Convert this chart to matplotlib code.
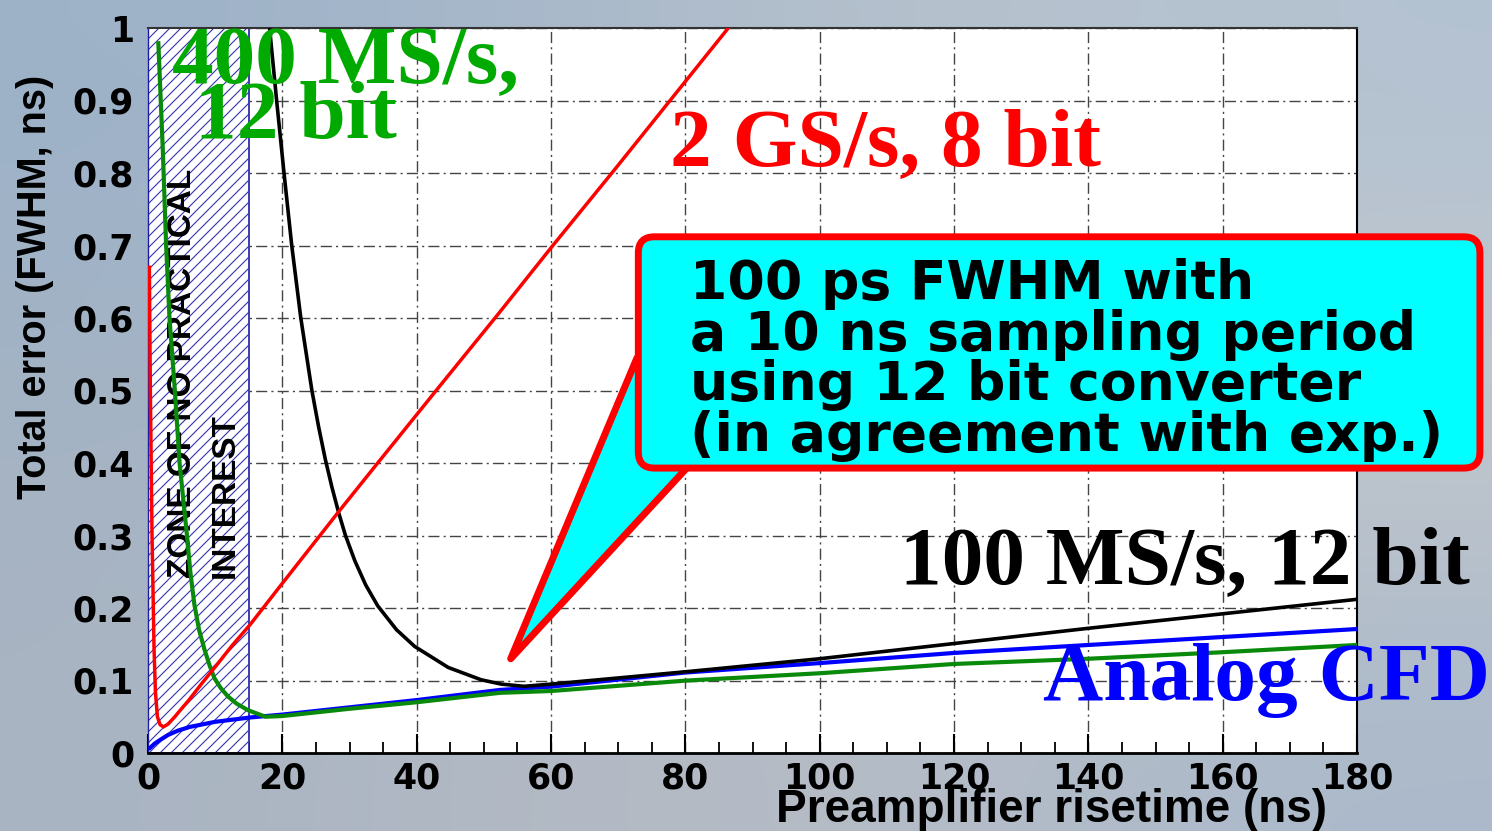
import matplotlib.pyplot as plt
import numpy as np
from matplotlib.collections import LineCollection
from matplotlib.patches import FancyBboxPatch, Polygon

plt.rcParams['font.family'] = 'DejaVu Sans'
plt.rcParams['font.weight'] = 'bold'

# 2 GS/s, 8 bit digitizer
rise_2g = [0.2, 0.35, 0.6, 0.9, 1.1, 1.4, 1.8, 2.3, 3, 4, 4.8, 6, 8.1, 10.2,
           12.5, 15.2, 18.4, 20, 28.4, 34.2, 42.9, 52.1, 60.1, 69.5, 77.9, 86.4]
err_2g = [0.67, 0.5, 0.3, 0.143, 0.085, 0.05, 0.039, 0.036, 0.04, 0.05, 0.059,
          0.072, 0.097, 0.121, 0.148, 0.177, 0.215, 0.234, 0.333, 0.4, 0.5,
          0.605, 0.698, 0.805, 0.902, 1.0]

# 400 MS/s, 12 bit digitizer
rise_400m = [1.54, 2.2, 2.7, 3.2, 4.0, 4.7, 5.8, 6.3, 6.9, 7.6, 8.4, 9.2, 9.9,
             10.8, 11.9, 13.2, 14.9, 17.5, 20, 30, 40, 52.4, 60, 80, 100, 120,
             140, 160, 180]
err_400m = [0.979, 0.833, 0.7, 0.6, 0.5, 0.4, 0.3, 0.25, 0.205, 0.17, 0.143,
            0.12, 0.103, 0.09, 0.078, 0.068, 0.059, 0.05, 0.051, 0.061, 0.07,
            0.083, 0.0855, 0.0998, 0.11, 0.1228, 0.13, 0.139, 0.149]

# 100 MS/s, 12 bit digitizer
rise_100m = [18.1, 19.15, 20.25, 21.4, 22.75, 24.4, 25.4, 26.4, 27.4, 28.4,
             29.4, 30.8, 32.4, 34.2, 37.0, 39.7, 44.7, 49.6, 52.6, 56, 60, 80,
             100, 120, 140, 160, 180]
err_100m = [1.0, 0.9, 0.8, 0.7, 0.6, 0.5, 0.45, 0.405, 0.366, 0.331, 0.3,
            0.265, 0.232, 0.203, 0.17, 0.147, 0.118, 0.101, 0.095, 0.092,
            0.095, 0.112, 0.13, 0.151, 0.172, 0.192, 0.212]

# analog constant fraction discriminator
rise_cfd = [0.3, 1, 1.8, 3, 4.5, 6.25, 10, 15.2, 20, 30, 40, 52.4, 60, 80, 100,
            120, 140, 160, 180]
err_cfd = [0.007, 0.013, 0.018, 0.025, 0.031, 0.036, 0.043, 0.049, 0.053,
           0.063, 0.073, 0.087, 0.0915, 0.111, 0.124, 0.138, 0.149, 0.16, 0.171]

zone_end = 15
x_ticks = [0, 20, 40, 60, 80, 100, 120, 140, 160, 180]
y_ticks = [0, 0.1, 0.2, 0.3, 0.4, 0.5, 0.6, 0.7, 0.8, 0.9, 1.0]
y_tick_labels = ['0', '0.1', '0.2', '0.3', '0.4', '0.5', '0.6', '0.7', '0.8',
                 '0.9', '1']

note_lines = ['100 ps FWHM with', 'a 10 ns sampling period',
              'using 12 bit converter', '(in agreement with exp.)']

fig = plt.figure(figsize=(14.92, 8.31), dpi=100)

# sky-like backdrop
bg = fig.add_axes([0, 0, 1, 1], zorder=-10)
sky = np.array([
    [[157, 178, 200], [169, 185, 203], [183, 194, 204], [179, 194, 210]],
    [[164, 179, 196], [172, 184, 197], [186, 192, 199], [197, 201, 204]],
    [[169, 180, 194], [180, 186, 196], [181, 188, 198], [170, 185, 203]],
]) / 255.0
bg.imshow(sky, aspect='auto', interpolation='bicubic', extent=[0, 1, 0, 1])
bg.set_axis_off()

ax_box = [148 / 1492, 1 - 753 / 831, 1209 / 1492, 725 / 831]
ax = fig.add_axes(ax_box)
ax.set_facecolor('white')
ax.set_xlim(0, 180)
ax.set_ylim(0, 1)

ax.set_axisbelow(True)
ax.grid(True, color='#444444', lw=1, linestyle=(0, (8, 3, 1.5, 3)))

# hatched zone: 45 degree lines every 11 px, cut to the zone rectangle
ax.axvspan(0, zone_end, facecolor='white', edgecolor='#1c1ca8', lw=1.2,
           zorder=1)
ax_w, ax_h = 1209, 725
zone_px = zone_end / 180 * ax_w
segs = []
for c in np.arange(-ax_h, zone_px, 11):
    x0 = max(0, c)
    x1 = min(zone_px, c + ax_h)
    if x1 > x0:
        segs.append([(x0 / ax_w, (x0 - c) / ax_h),
                     (x1 / ax_w, (x1 - c) / ax_h)])
hatch = LineCollection(segs, colors='#3535b0', lw=0.8,
                       transform=ax.transAxes, zorder=1.1)
ax.add_collection(hatch)

ax.text(zone_end / 2 + 0.8, 0.241, 'ZONE OF NO PRACTICAL\nINTEREST',
        rotation=90, ha='center', va='bottom', multialignment='left',
        family='Liberation Sans', fontsize=24, linespacing=1.5, zorder=2)

ax.plot(rise_cfd, err_cfd, color='#0000ff', lw=3, zorder=3)
ax.plot(rise_400m, err_400m, color='#0a8a0a', lw=3, zorder=3)
ax.plot(rise_100m, err_100m, color='black', lw=2.6, zorder=4)
ax.plot(rise_2g, err_2g, color='#ff0000', lw=2.5, zorder=4)

serif = 'Liberation Serif'
ax.text(3.6, 0.924, '400 MS/s,', family=serif, fontsize=60, color='#00aa00',
        va='baseline', zorder=5)
ax.text(7.0, 0.848, '12 bit', family=serif, fontsize=60, color='#00aa00',
        va='baseline', zorder=5)
ax.text(77.7, 0.811, '2 GS/s, 8 bit', family=serif, fontsize=60,
        color='#ff0000', va='baseline', zorder=5)
ax.text(112.0, 0.2345, '100 MS/s, 12 bit', family=serif, fontsize=60,
        color='black', va='baseline', zorder=5, clip_on=False)
ax.text(133.2, 0.073, 'Analog CFD', family=serif, fontsize=60,
        color='#0000ff', va='baseline', zorder=5, clip_on=False)

# callout with pointer
pointer = Polygon([(54, 0.13), (72.8, 0.545), (80.2, 0.393)], closed=True,
                  facecolor='#00ffff', edgecolor='#ff0000', lw=5,
                  joinstyle='round', zorder=6)
ax.add_patch(pointer)
aspect = (1 / 725) / (180 / 1209)
box = FancyBboxPatch((73.0, 0.393), 198.3 - 73.0, 0.712 - 0.393,
                     boxstyle='round,pad=0,rounding_size=2.4',
                     mutation_aspect=aspect, facecolor='#00ffff',
                     edgecolor='#ff0000', lw=5, zorder=7, clip_on=False)
ax.add_patch(box)
ax.text(80.7, 0.683, '\n'.join(note_lines), fontsize=38.6, va='top',
        ha='left', linespacing=0.97, zorder=8, clip_on=False)

ax.set_xticks(x_ticks)
ax.set_xticks(np.arange(0, 181, 5), minor=True)
ax.set_yticks(y_ticks)
ax.set_yticklabels(y_tick_labels)
ax.tick_params(axis='x', which='major', direction='in', length=14, width=1.5,
               pad=6, labelsize=25)
ax.tick_params(axis='x', which='minor', direction='in', length=8, width=1.3)
ax.tick_params(axis='y', length=0, pad=10, labelsize=25)

ax.spines['bottom'].set_linewidth(2)
ax.spines['right'].set_linewidth(1.5)
ax.spines['top'].set_linewidth(1.5)
ax.spines['top'].set_color('#333333')
ax.spines['left'].set_color('#1c1ca8')
ax.spines['left'].set_linewidth(1)

fig.text(1051 / 1492, 1 - 810 / 831, 'Preamplifier risetime (ns)',
         family='Liberation Sans', fontsize=33, ha='center', va='center')
fig.text(35 / 1492, 1 - 287 / 831, 'Total error (FWHM, ns)',
         family='Liberation Sans', fontsize=28.5, rotation=90, ha='center',
         va='center')

fig.savefig('out.png', dpi=100)
